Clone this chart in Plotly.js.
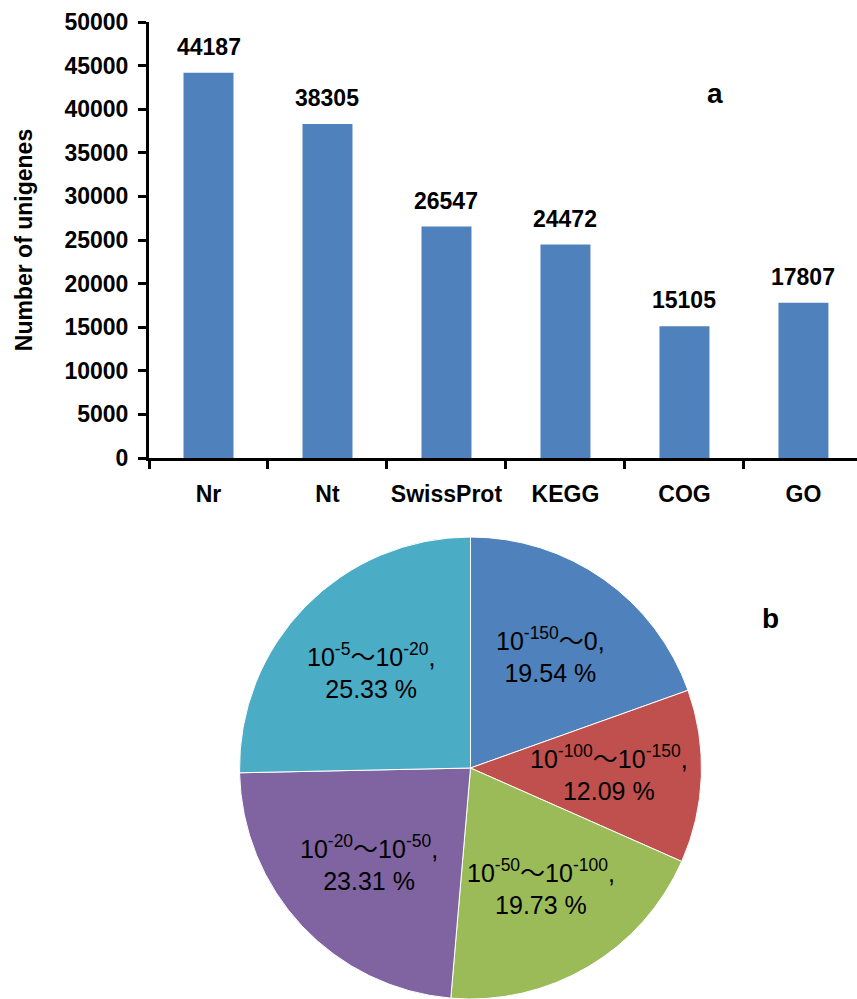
<!DOCTYPE html>
<html>
<head>
<meta charset="utf-8">
<script src="https://cdn.plot.ly/plotly-3.0.1.min.js"></script>
<style>html,body{margin:0;padding:0;background:#fff;}#chart{width:857px;height:999px;}</style>
</head>
<body>
<div id="chart"></div>
<script>
// Bar chart data (panel a)
const databases = ["Nr", "Nt", "SwissProt", "KEGG", "COG", "GO"];
const unigeneCounts = [44187, 38305, 26547, 24472, 15105, 17807];
const yTickVals = [0, 5000, 10000, 15000, 20000, 25000, 30000, 35000, 40000, 45000, 50000];

// Pie chart data (panel b) - E-value distribution
const evalueRanges = [
  "10<sup>-150</sup>～0,",
  "10<sup>-100</sup>～10<sup>-150</sup>,",
  "10<sup>-50</sup>～10<sup>-100</sup>,",
  "10<sup>-20</sup>～10<sup>-50</sup>,",
  "10<sup>-5</sup>～10<sup>-20</sup>,"
];
const evaluePercents = [19.54, 12.09, 19.73, 23.31, 25.33];
const pieColors = ["#4F81BD", "#C0504D", "#9BBB59", "#8064A2", "#4BACC6"];

const W = 857, H = 999;
const FONT = "Arial, 'Liberation Sans', 'Noto Sans CJK SC', sans-serif";

const barTrace = {
  type: "bar",
  x: databases,
  y: unigeneCounts,
  marker: {color: "#4F81BD"},
  width: 0.42,
  xaxis: "x", yaxis: "y",
  hoverinfo: "x+y"
};

const pieDomX = [228/W, 713/W], pieDomY = [0, 1 - 537/H];
const pieTrace = {
  type: "pie",
  values: evaluePercents,
  textinfo: "none",
  marker: {colors: pieColors, line: {color: "#fff", width: 1}},
  sort: false,
  direction: "clockwise",
  rotation: 0,
  domain: {x: pieDomX, y: pieDomY},
  showlegend: false,
  hoverinfo: "value"
};

const barLabels = databases.map((d, i) => ({
  x: d, y: unigeneCounts[i], xref: "x", yref: "y",
  text: String(unigeneCounts[i]), showarrow: false,
  xanchor: "center", yanchor: "bottom", yshift: 11,
  font: {family: FONT, size: 23, color: "#000", weight: "bold"}
}));

// Pie slice labels placed at each slice's mid-angle (derived from the values)
const pieW = (pieDomX[1] - pieDomX[0]) * W, pieH = (pieDomY[1] - pieDomY[0]) * H;
const R = Math.min(pieW, pieH) / 2;
const cxPx = (pieDomX[0] + pieDomX[1]) / 2 * W;
const cyPx = (pieDomY[0] + pieDomY[1]) / 2 * H; // from bottom
const total = evaluePercents.reduce((a, b) => a + b, 0);
let cum = 0;
const pieLabels = evaluePercents.map((v, i) => {
  const mid = (cum + v / 2) / total * 2 * Math.PI;
  cum += v;
  const rr = 0.6 * R;
  return {
    x: (cxPx + rr * Math.sin(mid)) / W,
    y: (cyPx + rr * Math.cos(mid)) / H,
    xref: "paper", yref: "paper", xanchor: "center", yanchor: "middle",
    text: evalueRanges[i] + "<br>" + evaluePercents[i].toFixed(2) + " %",
    showarrow: false, align: "center",
    font: {family: FONT, size: 25, color: "#000"}
  };
});

const layout = {
  width: W, height: H,
  margin: {l: 0, r: 0, t: 0, b: 0},
  paper_bgcolor: "#fff", plot_bgcolor: "#fff",
  showlegend: false,
  font: {family: FONT, color: "#000"},
  xaxis: {
    domain: [149/W, 1],
    type: "category",
    range: [-0.5, 5.45],
    showline: true, linecolor: "#000", linewidth: 3,
    ticks: "outside", tickson: "boundaries", ticklen: 8, tickwidth: 3, tickcolor: "#000",
    tickangle: 0,
    tickfont: {family: FONT, size: 23, color: "#000", weight: "bold"},
    ticklabelstandoff: 13,
    showgrid: false, zeroline: false, fixedrange: true
  },
  yaxis: {
    domain: [1 - 458/H, 1 - 22/H],
    range: [0, 50000],
    tickvals: yTickVals,
    ticktext: yTickVals.map(String),
    showline: true, linecolor: "#000", linewidth: 3,
    ticks: "outside", ticklen: 8, tickwidth: 3, tickcolor: "#000",
    tickfont: {family: FONT, size: 23, color: "#000", weight: "bold"},
    ticklabelstandoff: 5,
    showgrid: false, zeroline: false, fixedrange: true,
    title: {text: "Number of unigenes", font: {family: FONT, size: 23, color: "#000", weight: "bold"}, standoff: 26}
  },
  annotations: barLabels.concat(pieLabels, [
    {x: 715/W, y: 1 - 94/H, xref: "paper", yref: "paper", xanchor: "center", yanchor: "middle",
     text: "a", showarrow: false, font: {family: FONT, size: 28, color: "#000", weight: "bold"}},
    {x: 770/W, y: 1 - 618/H, xref: "paper", yref: "paper", xanchor: "center", yanchor: "middle",
     text: "b", showarrow: false, font: {family: FONT, size: 28, color: "#000", weight: "bold"}}
  ])
};

Plotly.newPlot("chart", [barTrace, pieTrace], layout, {displayModeBar: false, staticPlot: true});
</script>
</body>
</html>
